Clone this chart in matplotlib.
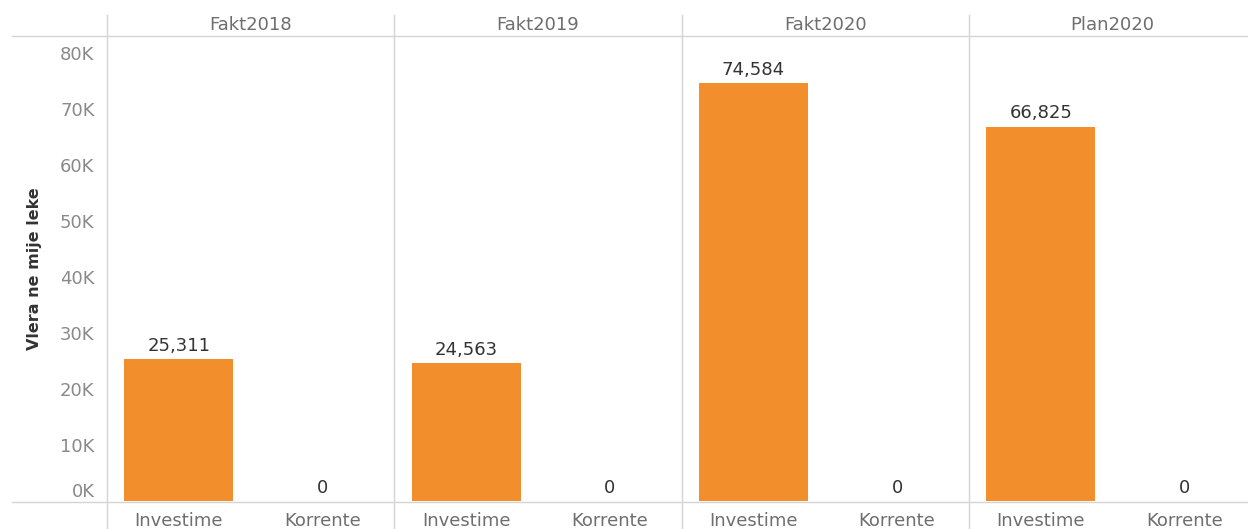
import matplotlib.pyplot as plt
from matplotlib.lines import Line2D
from matplotlib.ticker import FuncFormatter

plt.rcParams['font.family'] = ['DejaVu Sans']

# data
panels = ["Fakt2018", "Fakt2019", "Fakt2020", "Plan2020"]
kinds = ["Investime", "Korrente"]
investime = [25311, 24563, 74584, 66825]
korrente = [0, 0, 0, 0]
yticks = [0, 10000, 20000, 30000, 40000, 50000, 60000, 70000, 80000]

W, H = 1248, 529
fig = plt.figure(figsize=(W / 100, H / 100), dpi=100)

orange = "#F28E2B"
line_c = "#D4D4D4"
head_c = "#6E6E6E"
tick_c = "#8A8A8A"

x0, pw = 107, 287.3
top_px, bot_px = 36, 501
for i, name in enumerate(panels):
    left = (x0 + i * pw) / W
    ax = fig.add_axes([left, (H - bot_px) / H, pw / W, (bot_px - top_px) / H])
    vals = [investime[i], korrente[i]]
    ax.bar([0, 1], vals, width=0.76, color=orange)
    ax.set_xlim(-0.5, 1.5)
    ax.set_ylim(0, 83000)
    for x, v in zip([0, 1], vals):
        ax.annotate(f"{v:,}", (x, v), xytext=(0, 3), textcoords="offset points",
                    ha="center", va="bottom", fontsize=13, color="#333333")
    ax.set_xticks([0, 1])
    ax.set_xticklabels(kinds, fontsize=13, color=head_c)
    ax.tick_params(axis="x", length=0, pad=8)
    for s in ["top", "right", "bottom", "left"]:
        ax.spines[s].set_visible(False)
    if i == 0:
        ax.set_yticks(yticks)
        ax.yaxis.set_major_formatter(FuncFormatter(lambda v, p: f"{int(v / 1000)}K"))
        ax.tick_params(axis="y", length=0, pad=9, labelsize=13, labelcolor=tick_c)
        ax.get_yticklabels()[0].set_va("bottom")
        ax.set_ylabel("Vlera ne mije leke", fontsize=11.5, fontweight="bold",
                      color="#333333", labelpad=13)
    else:
        ax.set_yticks([])
    fig.text(left + pw / W / 2, 1 - 25 / H, name, ha="center", va="center",
             fontsize=13, color=head_c)

# header / footer rules and panel dividers
fig.add_artist(Line2D([12 / W, 1], [1 - top_px / H] * 2, color=line_c, lw=1))
fig.add_artist(Line2D([12 / W, 1], [1 - (bot_px + 1) / H] * 2, color=line_c, lw=1))
for i in range(len(panels)):
    xx = (x0 + i * pw) / W
    fig.add_artist(Line2D([xx, xx], [0, 1 - 15 / H], color=line_c, lw=1))

fig.savefig("out.png", dpi=100)
